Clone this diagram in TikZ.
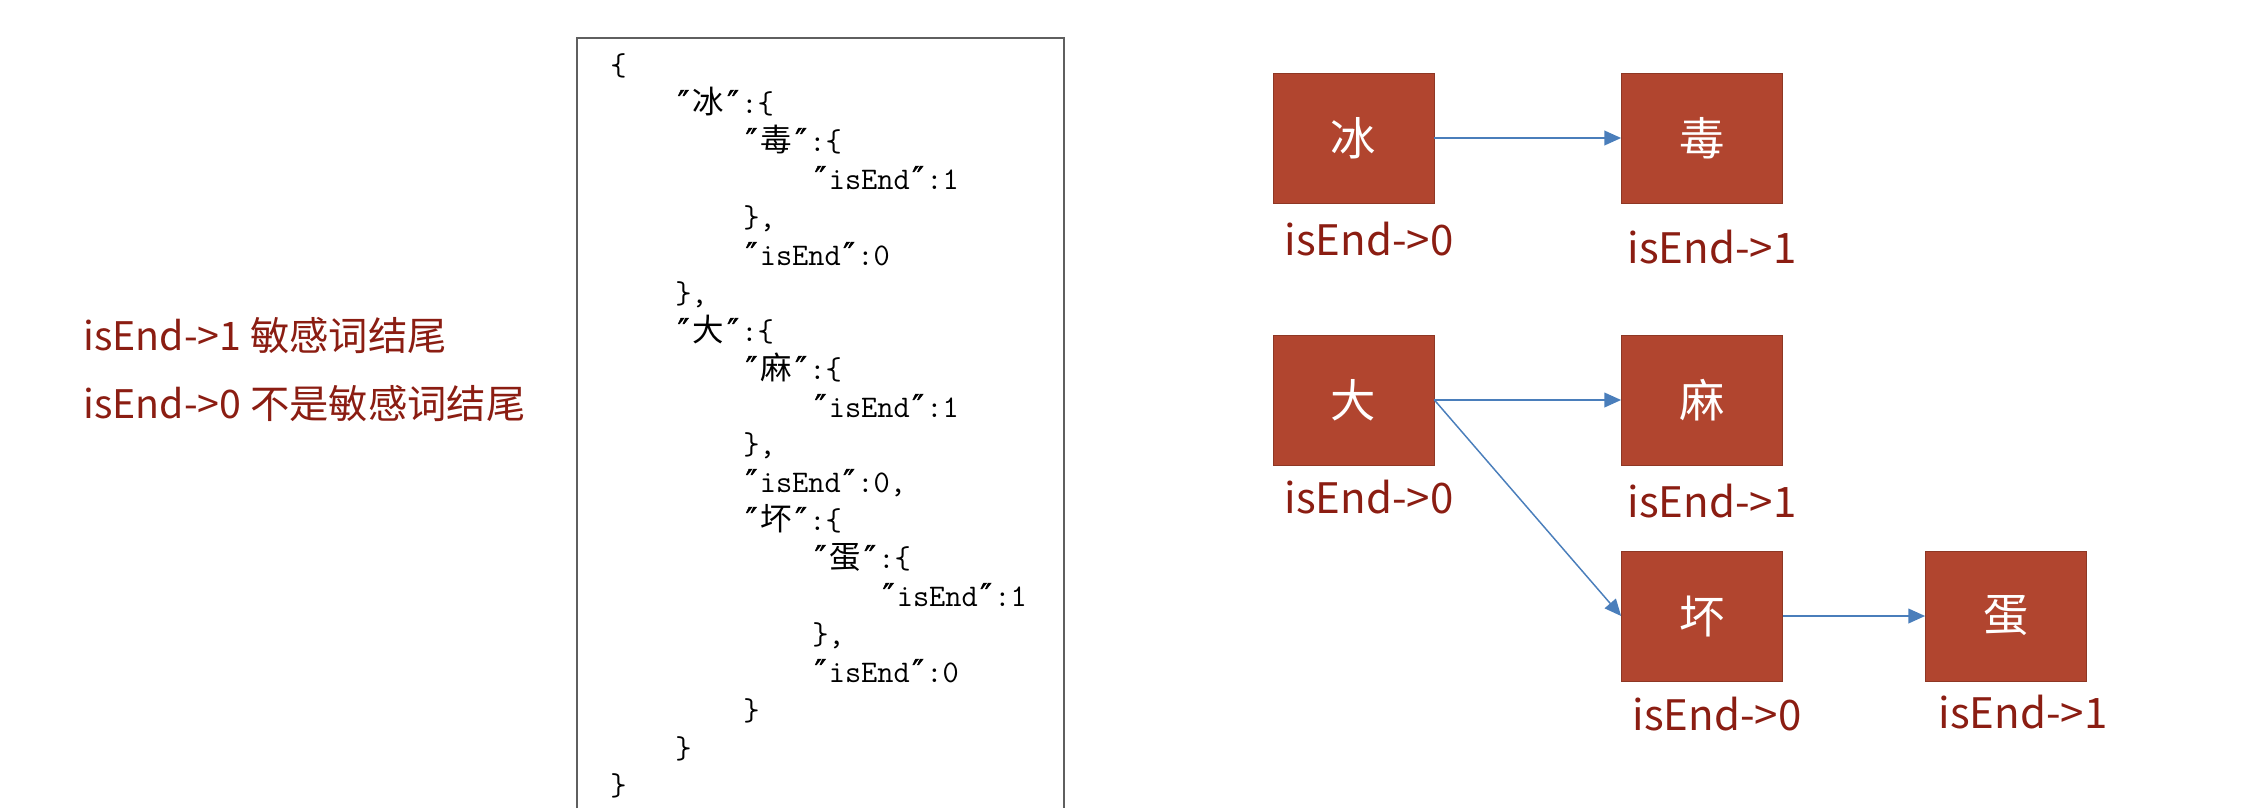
\documentclass[tikz,border=0pt]{standalone}
\usepackage{fontspec}
\setmainfont{Noto Sans CJK SC}
\newfontfamily\cjk{Noto Sans CJK SC}
\newfontfamily\symfont{DejaVu Sans}
\usetikzlibrary{arrows.meta}
\definecolor{boxred}{HTML}{B1452F}
\definecolor{boxedge}{HTML}{8E3724}
\definecolor{labred}{HTML}{8B1D12}
\definecolor{arrblue}{HTML}{4A7EBB}
\definecolor{framegray}{HTML}{5F5F5F}
\newcommand\hz[1]{\makebox[1.05em]{\cjk #1}}
\newcommand\qq{\makebox[0.525em]{\symfont\addfontfeature{FakeBold=1.5}″}}
\begin{document}
\begin{tikzpicture}[x=0.75pt, y=-0.75pt,
  trie/.style={rectangle, draw=boxedge, line width=0.6pt, fill=boxred, text=white,
    minimum width=120.75pt, minimum height=97.5pt, font=\fontsize{34pt}{40pt}\selectfont},
  endlab/.style={anchor=base, inner sep=0pt, text=labred, font=\fontsize{31.5pt}{36pt}\selectfont},
  note/.style={anchor=base west, inner sep=0pt, text=labred, font=\fontsize{29.5pt}{34pt}\selectfont},
  codeln/.style={anchor=base west, inner sep=0pt, font=\fontsize{23.6pt}{28pt}\selectfont\ttfamily\addfontfeature{FakeBold=1}},
  link/.style={draw=arrblue, line width=1.1pt, -{Triangle[length=12.5pt, width=11pt]}}]
\useasboundingbox (0,0) rectangle (2266,808);
% legend
\node[note] (lg0) at (83,350){isEnd->1 敏感词结尾};
\node[note] (lg1) at (83,418){isEnd->0 不是敏感词结尾};
% json box
\draw[framegray, line width=1.1pt] (577,808) -- (577,38) -- (1064,38) -- (1064,808);
\node[codeln] (cl0) at (610,75){\{};
\node[codeln] (cl1) at (675,113){\qq\hz{冰}\qq:\{};
\node[codeln] (cl2) at (743,151){\qq\hz{毒}\qq:\{};
\node[codeln] (cl3) at (812,189){\qq isEnd\qq:1};
\node[codeln] (cl4) at (743,227){\},};
\node[codeln] (cl5) at (743,265){\qq isEnd\qq:0};
\node[codeln] (cl6) at (675,303){\},};
\node[codeln] (cl7) at (675,341){\qq\hz{大}\qq:\{};
\node[codeln] (cl8) at (743,379){\qq\hz{麻}\qq:\{};
\node[codeln] (cl9) at (812,417){\qq isEnd\qq:1};
\node[codeln] (cl10) at (743,454){\},};
\node[codeln] (cl11) at (743,492){\qq isEnd\qq:0,};
\node[codeln] (cl12) at (743,530){\qq\hz{坏}\qq:\{};
\node[codeln] (cl13) at (812,568){\qq\hz{蛋}\qq:\{};
\node[codeln] (cl14) at (880,606){\qq isEnd\qq:1};
\node[codeln] (cl15) at (812,644){\},};
\node[codeln] (cl16) at (812,682){\qq isEnd\qq:0};
\node[codeln] (cl17) at (743,720){\}};
\node[codeln] (cl18) at (675,758){\}};
\node[codeln] (cl19) at (610,795){\}};
% trie
\node[trie] (tn0) at (1353.5,138){冰};
\node[trie] (tn1) at (1702,138){毒};
\node[trie] (tn2) at (1353.5,400){大};
\node[trie] (tn3) at (1702,400){麻};
\node[trie] (tn4) at (1702,616){坏};
\node[trie] (tn5) at (2006,616){蛋};
\node[endlab] (tl0) at (1369,255){isEnd->0};
\node[endlab] (tl1) at (1712,263){isEnd->1};
\node[endlab] (tl2) at (1369,513){isEnd->0};
\node[endlab] (tl3) at (1712,517){isEnd->1};
\node[endlab] (tl4) at (1717,730){isEnd->0};
\node[endlab] (tl5) at (2023,728){isEnd->1};
\draw[link] (tn0) -- (tn1);
\draw[link] (tn2) -- (tn3);
\draw[link] (tn2.east) -- (tn4.west);
\draw[link] (tn4) -- (tn5);
\end{tikzpicture}
\end{document}
